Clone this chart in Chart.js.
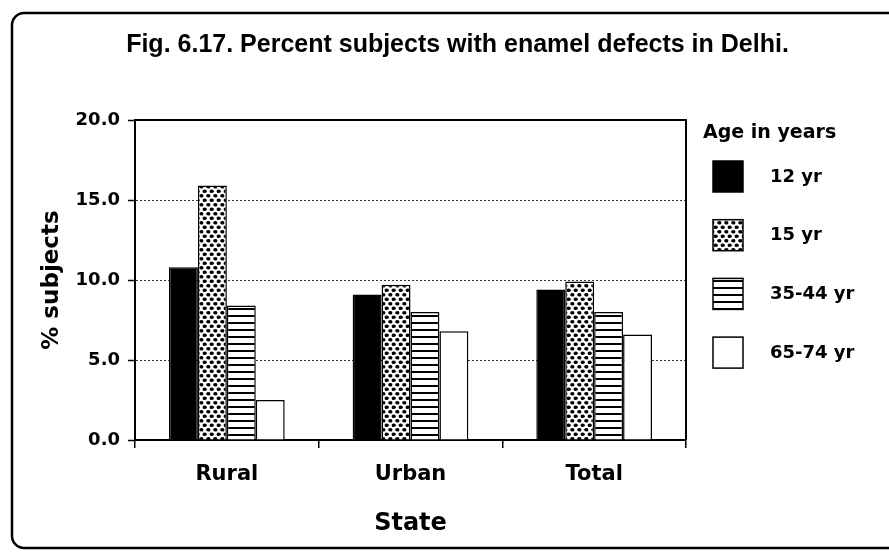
<!DOCTYPE html>
<html>
<head>
<meta charset="utf-8">
<script src="https://cdn.jsdelivr.net/npm/chart.js@4.4.1/dist/chart.umd.min.js"></script>
<style>
  html, body { margin: 0; padding: 0; background: #fff; }
  #wrap { width: 889px; height: 553px; }
</style>
</head>
<body>
<div id="wrap"><canvas id="chart" width="889" height="553"></canvas></div>
<script>
// ---- data ----
const categories = ['Rural', 'Urban', 'Total'];
const seriesLabels = ['12 yr', '15 yr', '35-44 yr', '65-74 yr'];
const yr12 = [10.8, 9.1, 9.4];
const yr15 = [15.9, 9.7, 9.9];
const yr35to44 = [8.4, 8.0, 8.0];
const yr65to74 = [2.5, 6.8, 6.6];
const yTickValues = [0, 5, 10, 15, 20];

const chartTitle = 'Fig. 6.17. Percent subjects with enamel defects in Delhi.';
const yTitle = '% subjects';
const xTitle = 'State';
const legendTitle = 'Age in years';

// ---- fill patterns ----
function makeTile(w, h, paint) {
  const c = document.createElement('canvas');
  c.width = w; c.height = h;
  const g = c.getContext('2d');
  g.fillStyle = '#fff';
  g.fillRect(0, 0, w, h);
  g.fillStyle = '#000';
  paint(g);
  return document.createElement('canvas').getContext('2d').createPattern(c, 'repeat');
}
const dotPattern = makeTile(7, 9, g => {
  [[1.75, 2.25], [5.25, 6.75]].forEach(([x, y]) => {
    g.beginPath();
    g.ellipse(x, y, 2.1, 1.8, 0, 0, Math.PI * 2);
    g.fill();
  });
  // wrap-around halves of the dots at the tile edges
  [[1.75 + 7, 2.25], [5.25 - 7, 6.75], [1.75, 2.25 + 9], [5.25, 6.75 - 9]].forEach(([x, y]) => {
    g.beginPath();
    g.ellipse(x, y, 2.1, 1.8, 0, 0, Math.PI * 2);
    g.fill();
  });
});
const stripePattern = makeTile(8, 7, g => {
  g.fillRect(0, 0, 8, 2);
});

const fills = ['#000', dotPattern, stripePattern, '#fff'];
const seriesValues = [yr12, yr15, yr35to44, yr65to74];

const fontMain = 'DejaVu Sans';

// ---- frame, plot box and legend ----
const decorations = {
  id: 'decorations',
  beforeDraw(chart) {
    const ctx = chart.ctx;
    ctx.save();
    ctx.fillStyle = '#fff';
    ctx.fillRect(0, 0, chart.width, chart.height);
    // rounded outer frame
    ctx.strokeStyle = '#000';
    ctx.lineWidth = 2.5;
    ctx.beginPath();
    ctx.roundRect(12, 13, chart.width + 20, 535, 12);
    ctx.stroke();
    ctx.restore();
  },
  afterDatasetsDraw(chart) {
    const { ctx, chartArea: a } = chart;
    ctx.save();
    ctx.strokeStyle = '#000';
    ctx.lineWidth = 2;
    ctx.beginPath();
    ctx.moveTo(a.left, a.top);
    ctx.lineTo(a.right, a.top);
    ctx.lineTo(a.right, a.bottom);
    ctx.stroke();
    ctx.restore();
  },
  afterDraw(chart) {
    const { ctx, chartArea: a } = chart;
    ctx.save();
    ctx.fillStyle = '#000';
    ctx.textAlign = 'left';
    ctx.textBaseline = 'alphabetic';
    ctx.font = 'bold 19px "' + fontMain + '"';
    ctx.fillText(legendTitle, a.right + 17, a.top + 18);
    ctx.font = 'bold 18px "' + fontMain + '"';
    ctx.textBaseline = 'middle';
    chart.data.datasets.forEach((ds, i) => {
      const bx = a.right + 27;
      const by = a.top + 41 + i * 58.7;
      ctx.fillStyle = ds.backgroundColor;
      ctx.fillRect(bx, by, 30, 31);
      ctx.strokeStyle = '#000';
      ctx.lineWidth = 1.5;
      ctx.strokeRect(bx, by, 30, 31);
      ctx.fillStyle = '#000';
      ctx.fillText(ds.label, bx + 57, by + 16);
    });
    ctx.restore();
  }
};

new Chart(document.getElementById('chart'), {
  type: 'bar',
  data: {
    labels: categories,
    datasets: seriesValues.map((vals, i) => ({
      label: seriesLabels[i],
      data: vals,
      backgroundColor: fills[i],
      borderColor: '#000',
      borderWidth: 1.5,
      categoryPercentage: 0.63,
      barPercentage: 1.0
    }))
  },
  options: {
    responsive: false,
    animation: false,
    devicePixelRatio: 1,
    layout: { padding: { left: 26, right: 0, top: 0, bottom: 0 } },
    plugins: {
      legend: { display: false },
      tooltip: { enabled: false },
      title: {
        display: true,
        text: chartTitle,
        color: '#000',
        font: { family: 'Liberation Sans', size: 25, weight: 'bold' },
        padding: { top: 30, bottom: 60 }
      }
    },
    scales: {
      x: {
        grid: {
          display: true,
          drawOnChartArea: false,
          drawTicks: true,
          tickLength: 8,
          offset: true,
          color: '#000',
          lineWidth: 1.5
        },
        border: { display: true, color: '#000', width: 2 },
        ticks: {
          color: '#000',
          padding: 14,
          font: { family: fontMain, size: 21, weight: 'bold' }
        },
        title: {
          display: true,
          text: xTitle,
          color: '#000',
          font: { family: fontMain, size: 24, weight: 'bold' },
          padding: { top: 0, bottom: 15 }
        },
        afterFit(s) { s.height = 113; }
      },
      y: {
        min: 0,
        max: 20,
        afterBuildTicks(s) { s.ticks = yTickValues.map(v => ({ value: v })); },
        grid: {
          color: c => (c.tick && c.tick.value > 0 && c.tick.value < 20) ? '#333' : 'rgba(0,0,0,0)',
          lineWidth: 1,
          tickBorderDash: [],
          tickColor: '#000',
          tickWidth: 1.5,
          tickLength: 7,
          drawTicks: true
        },
        border: { display: true, color: '#000', width: 2, dash: [2, 2] },
        ticks: {
          color: '#000',
          padding: 8,
          font: { family: fontMain, size: 18, weight: 'bold' },
          callback: v => Number(v).toFixed(1)
        },
        title: {
          display: true,
          text: yTitle,
          color: '#000',
          font: { family: fontMain, size: 23, weight: 'bold' },
          padding: { top: 12, bottom: 0 }
        },
        afterFit(s) { s.width = 109; }
      },
      legendSpace: {
        type: 'linear',
        position: 'right',
        display: true,
        grid: { display: false },
        border: { display: false },
        ticks: { display: false },
        afterFit(s) { s.width = 203; }
      }
    }
  },
  plugins: [decorations]
});
</script>
</body>
</html>
